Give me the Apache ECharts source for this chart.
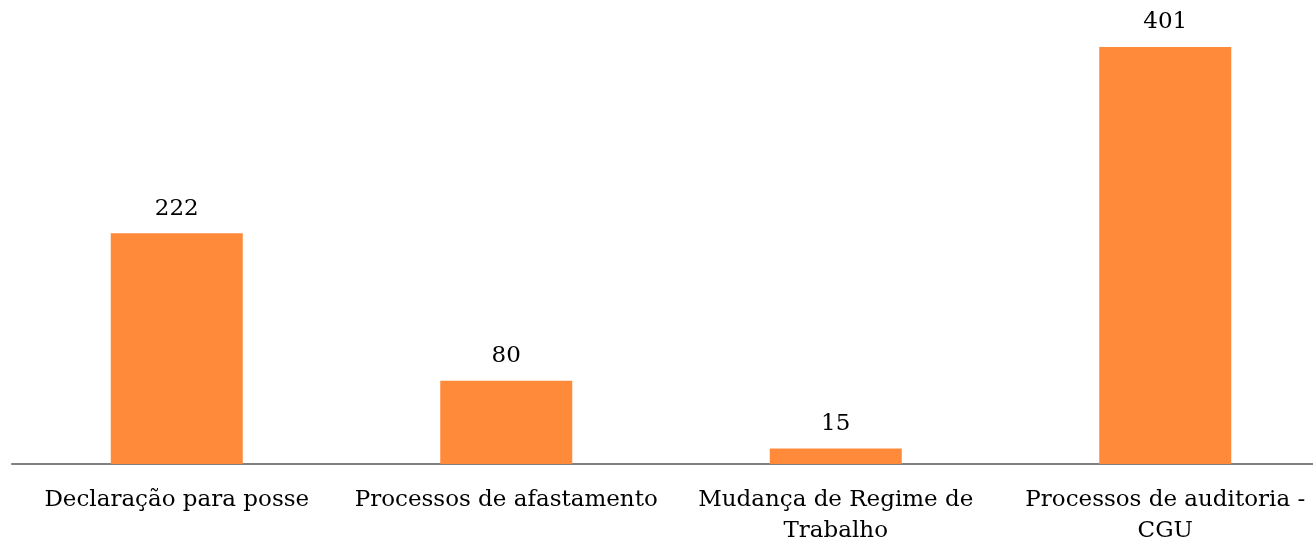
<!DOCTYPE html>
<html>
<head>
<meta charset="utf-8">
<script src="https://cdn.jsdelivr.net/npm/echarts@6/dist/echarts.min.js"></script>
<style>
  html, body { margin: 0; padding: 0; background: #fff; }
  #chart { width: 1313px; height: 545px; }
</style>
</head>
<body>
<div id="chart"></div>
<script>
const categories = [
  'Declaração para posse',
  'Processos de afastamento',
  'Mudança de Regime de\nTrabalho',
  'Processos de auditoria -\nCGU'
]
const values = [222, 80, 15, 401]

const chart = echarts.init(document.getElementById('chart'))

chart.setOption({
  backgroundColor: '#fff',
  animation: false,
  textStyle: { fontFamily: 'DejaVu Serif' },
  grid: { top: 47, height: 417, left: 12, width: 1318, outerBoundsMode: 'none', containLabel: false },
  xAxis: {
    type: 'category',
    data: categories,
    axisLine: { lineStyle: { color: '#808080', width: 2 } },
    axisTick: { show: false },
    axisLabel: {
      interval: 0,
      color: '#000',
      fontSize: 23,
      lineHeight: 31,
      margin: 21,
      fontFamily: 'DejaVu Serif'
    }
  },
  yAxis: {
    type: 'value',
    min: 0,
    max: 401,
    show: false,
    splitLine: { show: false }
  },
  series: [{
    type: 'bar',
    data: values,
    barWidth: 132,
    itemStyle: { color: '#FF8A3A' },
    label: {
      show: true,
      position: 'top',
      distance: 13,
      color: '#000',
      fontSize: 23,
      fontFamily: 'DejaVu Serif'
    }
  }]
})
</script>
</body>
</html>
